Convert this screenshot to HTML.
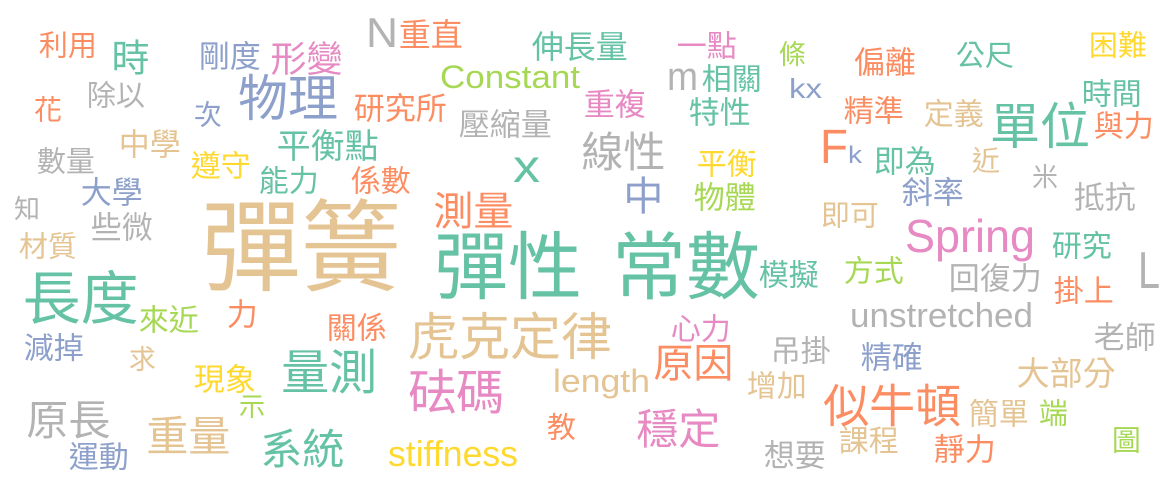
<!DOCTYPE html>
<html><head><meta charset="utf-8"><style>
html,body{margin:0;padding:0;background:#fff;width:1175px;height:482px;overflow:hidden}
svg text{font-family:"Liberation Sans","Noto Sans CJK TC",sans-serif}
</style></head><body>
<svg id="cloud" width="1175" height="482" xmlns="http://www.w3.org/2000/svg"></svg>
<script>
const G="#66c2a5",O="#fc8d62",B="#8da0cb",P="#e78ac3",L="#a6d854",Y="#ffd92f",T="#e5c494",R="#b3b3b3";
// CJK words: [text, color, left, top, fontSize]
const words=[
["彈簧",T,205,195,100],["彈性",G,437,228,74],["常數",G,615,228,74],["長度",G,25,268,58],
["虎克定律",T,410,310,51],["物理",B,240,72,50],["單位",G,992,100,50],["線性",R,583,130,42],
["量測",G,283,347,48],["砝碼",P,410,367,48],["原因",O,655,342,40],["似牛頓",O,825,382,46],
["穩定",P,638,407,42],["原長",R,28,398,42],["重量",T,148,414,42],["系統",G,262,427,42],
["形變",P,272,40,36],["時",G,113,38,38],["測量",O,435,190,40],["中",B,625,175,40],
["重直",O,400,18,32],["相關",G,703,63,30],["伸長量",G,533,30,32],["一點",P,678,30,30],
["條",L,780,40,27],["偏離",O,855,46,31],["公尺",G,957,40,29],["困難",Y,1090,30,29],
["利用",O,40,30,29],["剛度",B,200,40,31],["除以",R,88,80,29],["花",O,35,95,28],
["次",B,195,100,28],["研究所",O,355,92,31],["重複",P,585,88,31],["時間",G,1083,78,30],
["特性",G,690,96,31],["精準",O,845,95,30],["定義",T,925,98,30],["與力",O,1095,110,30],
["壓縮量",R,460,108,31],["中學",T,120,128,31],["平衡點",G,278,128,34],["數量",R,38,146,29],
["遵守",Y,192,150,30],["平衡",Y,698,148,30],["近",T,973,146,28],["即為",G,875,145,31],
["能力",G,260,165,30],["係數",O,352,165,30],["米",R,1033,163,26],["大學",B,82,176,31],
["物體",L,695,181,31],["斜率",B,903,176,31],["抵抗",R,1075,181,31],["知",R,15,195,26],
["些微",R,92,211,31],["即可",T,822,200,29],["材質",T,20,231,29],["研究",G,1053,230,30],
["模擬",G,760,259,30],["方式",L,845,255,30],["回復力",R,950,262,31],["掛上",O,1055,275,30],
["來近",L,140,304,30],["力",O,228,298,31],["關係",O,328,312,30],["心力",P,672,313,30],
["減掉",B,25,332,30],["老師",R,1095,321,31],["求",T,130,345,27],["吊掛",R,772,335,30],
["精確",B,862,341,31],["大部分",T,1018,356,33],["現象",Y,195,363,31],["增加",T,748,370,30],
["示",L,240,393,26],["簡單",T,970,398,30],["端",L,1040,398,29],["教",O,548,412,29],
["課程",T,840,425,30],["靜力",O,935,433,31],["圖",L,1113,425,29],["運動",B,70,441,30],
["想要",R,765,439,31]
];
// Latin words: [text, color, left, baseline, fontSize, width]
const latin=[
["Constant",L,440,88,32,140],["Spring",P,905,252,46,130],["L",R,1138,288,52,22],
["x",G,513,182,46,27],["N",R,366,47,42,32],["F",O,820,163,48,28],["k",B,848,163,24,14],
["m",R,667,90,40,31],["kx",B,789,98,28,33],["unstretched",R,850,327,34,183],
["length",T,553,392,32,97],["stiffness",Y,388,466,36,130]
];
const svg=document.getElementById('cloud');
const NS="http://www.w3.org/2000/svg";
words.forEach(w=>{
  const t=document.createElementNS(NS,'text');
  
  
  t.setAttribute('x',w[2]-w[4]*0.04);
  t.setAttribute('y',w[3]+w[4]*0.88);
  t.setAttribute('font-size',w[4]);
  t.setAttribute('fill',w[1]);
  t.textContent=w[0];
  svg.appendChild(t);
});
latin.forEach(w=>{
  const t=document.createElementNS(NS,'text');
  
  
  t.setAttribute('x',w[2]);
  t.setAttribute('y',w[3]);
  t.setAttribute('font-size',w[4]);
  t.setAttribute('fill',w[1]);
  t.setAttribute('textLength',w[5]);
  t.setAttribute('lengthAdjust','spacingAndGlyphs');
  t.textContent=w[0];
  svg.appendChild(t);
});
</script>
</body></html>
